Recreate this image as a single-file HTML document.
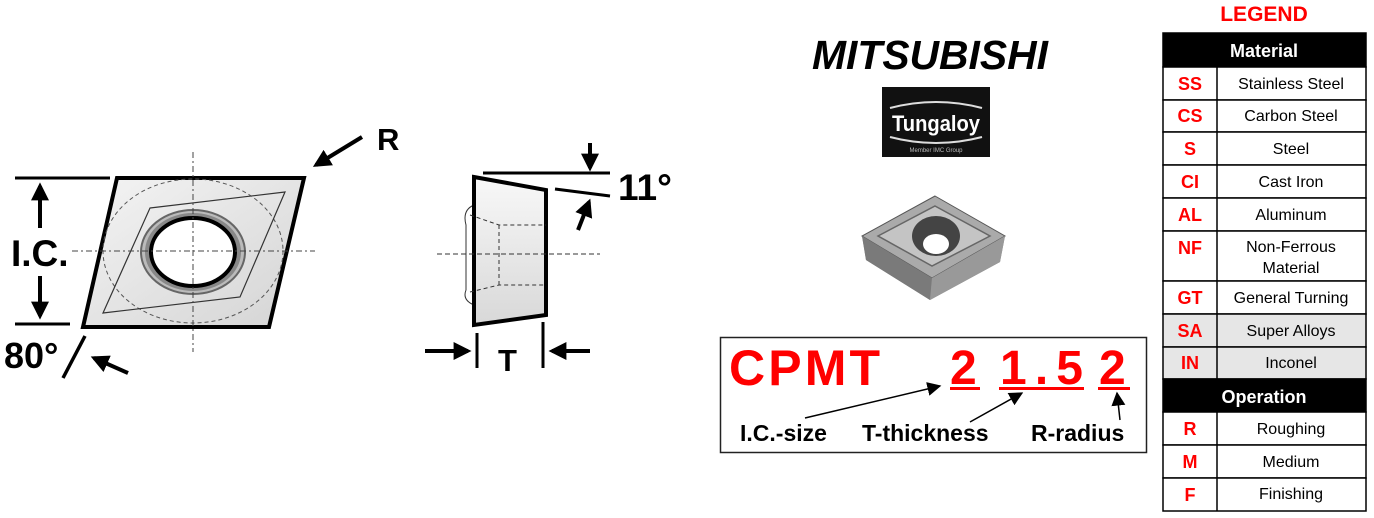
<!DOCTYPE html>
<html><head><meta charset="utf-8"><style>
html,body{margin:0;padding:0;background:#fff;width:1374px;height:518px;overflow:hidden}
svg{display:block}
text{font-family:"Liberation Sans",Arial,sans-serif}
</style></head><body>
<svg width="1374" height="518" viewBox="0 0 1374 518" xmlns="http://www.w3.org/2000/svg">
<defs>
<marker id="ahs" viewBox="0 0 10 10" refX="8" refY="5" markerWidth="18" markerHeight="18" orient="auto-start-reverse" markerUnits="userSpaceOnUse"><path d="M0,0 L10,5 L0,10 z" fill="#000"/></marker>
<marker id="ahm" viewBox="0 0 10 10" refX="9" refY="5" markerWidth="14" markerHeight="14" orient="auto-start-reverse" markerUnits="userSpaceOnUse"><path d="M0,0 L10,5 L0,10 z" fill="#000"/></marker>
<linearGradient id="gr" x1="0" y1="0" x2="1" y2="1"><stop offset="0" stop-color="#f4f4f4"/><stop offset="1" stop-color="#d4d4d4"/></linearGradient>
<linearGradient id="gr2" x1="0" y1="0" x2="0" y2="1"><stop offset="0" stop-color="#f8f8f8"/><stop offset="1" stop-color="#d8d8d8"/></linearGradient>
</defs>

<!-- Left insert top view -->
<polygon points="117,178 304,178 269,327 83,327" fill="url(#gr)" stroke="#000" stroke-width="4"/>
<ellipse cx="193" cy="251" rx="90" ry="72" fill="none" stroke="#555" stroke-width="1" stroke-dasharray="4,3"/>
<polygon points="150,208 285,192 240,297 103,313" fill="none" stroke="#333" stroke-width="1.2"/>
<ellipse cx="193" cy="252" rx="52" ry="42" fill="#bbb" stroke="#666" stroke-width="2"/>
<ellipse cx="193" cy="252" rx="46" ry="37" fill="none" stroke="#888" stroke-width="4"/>
<ellipse cx="193" cy="252" rx="42" ry="34" fill="#fff" stroke="#000" stroke-width="4"/>
<line x1="193" y1="152" x2="193" y2="352" stroke="#444" stroke-width="1" stroke-dasharray="6,3,2,3"/>
<line x1="72" y1="251" x2="315" y2="251" stroke="#444" stroke-width="1" stroke-dasharray="6,3,2,3"/>
<line x1="15" y1="178" x2="110" y2="178" stroke="#000" stroke-width="3"/>
<line x1="15" y1="324" x2="70" y2="324" stroke="#000" stroke-width="3"/>
<line x1="40" y1="228" x2="40" y2="186" stroke="#000" stroke-width="4" marker-end="url(#ahs)"/>
<line x1="40" y1="276" x2="40" y2="316" stroke="#000" stroke-width="4" marker-end="url(#ahs)"/>
<text x="11" y="266" font-size="37" font-weight="bold">I.C.</text>
<text x="4" y="368" font-size="36" font-weight="bold">80°</text>
<line x1="85" y1="336" x2="63" y2="378" stroke="#000" stroke-width="3.5"/>
<line x1="128" y1="373" x2="94" y2="358" stroke="#000" stroke-width="4" marker-end="url(#ahs)"/>
<text x="377" y="150" font-size="31" font-weight="bold">R</text>
<line x1="362" y1="137" x2="316" y2="165" stroke="#000" stroke-width="4" marker-end="url(#ahs)"/>

<!-- Side view -->
<path d="M474,205 Q462,210 466,225 L466,290 Q462,300 474,305" fill="none" stroke="#333" stroke-width="1"/>
<polygon points="474,177 546,190 546,315 474,325" fill="url(#gr2)" stroke="#000" stroke-width="4"/>
<line x1="437" y1="254" x2="600" y2="254" stroke="#333" stroke-width="1" stroke-dasharray="5,3"/>
<polyline points="470,215 499,225 546,225" fill="none" stroke="#333" stroke-width="1" stroke-dasharray="4,3"/>
<polyline points="470,292 499,285 546,285" fill="none" stroke="#333" stroke-width="1" stroke-dasharray="4,3"/>
<line x1="499" y1="225" x2="499" y2="285" stroke="#333" stroke-width="1" stroke-dasharray="4,3"/>
<line x1="483" y1="173" x2="610" y2="173" stroke="#000" stroke-width="3"/>
<line x1="555" y1="189" x2="610" y2="196" stroke="#000" stroke-width="3"/>
<line x1="590" y1="143" x2="590" y2="168" stroke="#000" stroke-width="4" marker-end="url(#ahs)"/>
<line x1="578" y1="230" x2="589" y2="202" stroke="#000" stroke-width="4" marker-end="url(#ahs)"/>
<text x="618" y="200" font-size="37" font-weight="bold">11°</text>
<line x1="477" y1="333" x2="477" y2="368" stroke="#000" stroke-width="3"/>
<line x1="543" y1="322" x2="543" y2="368" stroke="#000" stroke-width="3"/>
<line x1="425" y1="351" x2="468" y2="351" stroke="#000" stroke-width="4" marker-end="url(#ahs)"/>
<line x1="590" y1="351" x2="552" y2="351" stroke="#000" stroke-width="4" marker-end="url(#ahs)"/>
<text x="498" y="371" font-size="31" font-weight="bold">T</text>

<!-- Logos -->
<text x="812" y="69" font-size="41" font-weight="bold" font-style="italic" textLength="236" lengthAdjust="spacingAndGlyphs">MITSUBISHI</text>
<rect x="882" y="87" width="108" height="70" fill="#111"/>
<path d="M890,108 Q936,96 982,108 M890,137 Q936,149 982,137" fill="none" stroke="#ddd" stroke-width="2"/>
<text x="936" y="131" font-size="22" font-weight="bold" fill="#fff" text-anchor="middle" textLength="88" lengthAdjust="spacingAndGlyphs">Tungaloy</text>
<text x="936" y="152" font-size="6" fill="#bbb" text-anchor="middle">Member IMC Group</text>

<!-- Insert image -->
<polygon points="935,196 1005,236 1000,262 930,300 866,260 862,236" fill="#888"/>
<polygon points="935,196 1005,236 932,278 862,236" fill="#aaa" stroke="#555" stroke-width="1"/>
<polygon points="862,236 932,278 930,300 866,260" fill="#7a7a7a"/>
<polygon points="932,278 1005,236 1000,262 930,300" fill="#999"/>
<polygon points="935,206 990,236 932,266 878,236" fill="#c4c4c4" stroke="#666" stroke-width="1.5"/>
<ellipse cx="936" cy="236" rx="24" ry="20" fill="#444"/>
<ellipse cx="936" cy="244" rx="13" ry="10" fill="#fff"/>

<!-- Code box -->
<rect x="720.5" y="337.5" width="426" height="115" fill="#fff" stroke="#222" stroke-width="1.5"/>
<text x="729" y="385" font-size="50" font-weight="bold" fill="#f00" textLength="151" lengthAdjust="spacing">CPMT</text>
<text x="950" y="384" font-size="48" font-weight="bold" fill="#f00">2</text>
<text x="1000" y="384" font-size="48" font-weight="bold" fill="#f00" textLength="83" lengthAdjust="spacing">1.5</text>
<text x="1099" y="384" font-size="48" font-weight="bold" fill="#f00">2</text>
<rect x="950" y="387" width="30" height="3" fill="#f00"/>
<rect x="999" y="387" width="85" height="3" fill="#f00"/>
<rect x="1098" y="387" width="32" height="3" fill="#f00"/>
<line x1="805" y1="418" x2="940" y2="386" stroke="#000" stroke-width="1.5" marker-end="url(#ahm)"/>
<line x1="970" y1="422" x2="1022" y2="393" stroke="#000" stroke-width="1.5" marker-end="url(#ahm)"/>
<line x1="1120" y1="420" x2="1117" y2="393" stroke="#000" stroke-width="1.5" marker-end="url(#ahm)"/>
<text x="740" y="441" font-size="23" font-weight="bold">I.C.-size</text>
<text x="862" y="441" font-size="23" font-weight="bold">T-thickness</text>
<text x="1031" y="441" font-size="23" font-weight="bold">R-radius</text>

<!-- Legend -->
<text x="1264" y="21" font-size="21" font-weight="bold" fill="#f00" text-anchor="middle">LEGEND</text>
<g stroke="#000" stroke-width="1.5">
<rect x="1163" y="33" width="203" height="34" fill="#000"/>
<rect x="1163" y="67" width="203" height="33" fill="#fff"/>
<rect x="1163" y="100" width="203" height="32" fill="#fff"/>
<rect x="1163" y="132" width="203" height="33" fill="#fff"/>
<rect x="1163" y="165" width="203" height="33" fill="#fff"/>
<rect x="1163" y="198" width="203" height="33" fill="#fff"/>
<rect x="1163" y="231" width="203" height="50" fill="#fff"/>
<rect x="1163" y="281" width="203" height="33" fill="#fff"/>
<rect x="1163" y="314" width="203" height="33" fill="#e6e6e6"/>
<rect x="1163" y="347" width="203" height="32" fill="#e6e6e6"/>
<rect x="1163" y="379" width="203" height="33" fill="#000"/>
<rect x="1163" y="412" width="203" height="33" fill="#fff"/>
<rect x="1163" y="445" width="203" height="33" fill="#fff"/>
<rect x="1163" y="478" width="203" height="33" fill="#fff"/>
<line x1="1217" y1="67" x2="1217" y2="379"/>
<line x1="1217" y1="412" x2="1217" y2="511"/>
</g>
<g font-size="18" font-weight="bold" fill="#fff" text-anchor="middle">
<text x="1264" y="57">Material</text>
<text x="1264" y="403">Operation</text>
</g>
<g font-size="18" font-weight="bold" fill="#f00" text-anchor="middle">
<text x="1190" y="90">SS</text><text x="1190" y="122">CS</text><text x="1190" y="155">S</text>
<text x="1190" y="188">CI</text><text x="1190" y="221">AL</text><text x="1190" y="254">NF</text>
<text x="1190" y="304">GT</text><text x="1190" y="337">SA</text><text x="1190" y="369">IN</text>
<text x="1190" y="435">R</text><text x="1190" y="468">M</text><text x="1190" y="501">F</text>
</g>
<g font-size="16" fill="#000" text-anchor="middle">
<text x="1291" y="89">Stainless Steel</text><text x="1291" y="121">Carbon Steel</text>
<text x="1291" y="154">Steel</text><text x="1291" y="187">Cast Iron</text>
<text x="1291" y="220">Aluminum</text><text x="1291" y="252">Non-Ferrous</text>
<text x="1291" y="273">Material</text><text x="1291" y="303">General Turning</text>
<text x="1291" y="336">Super Alloys</text><text x="1291" y="368">Inconel</text>
<text x="1291" y="434">Roughing</text><text x="1291" y="467">Medium</text><text x="1291" y="499">Finishing</text>
</g>
</svg>
</body></html>
